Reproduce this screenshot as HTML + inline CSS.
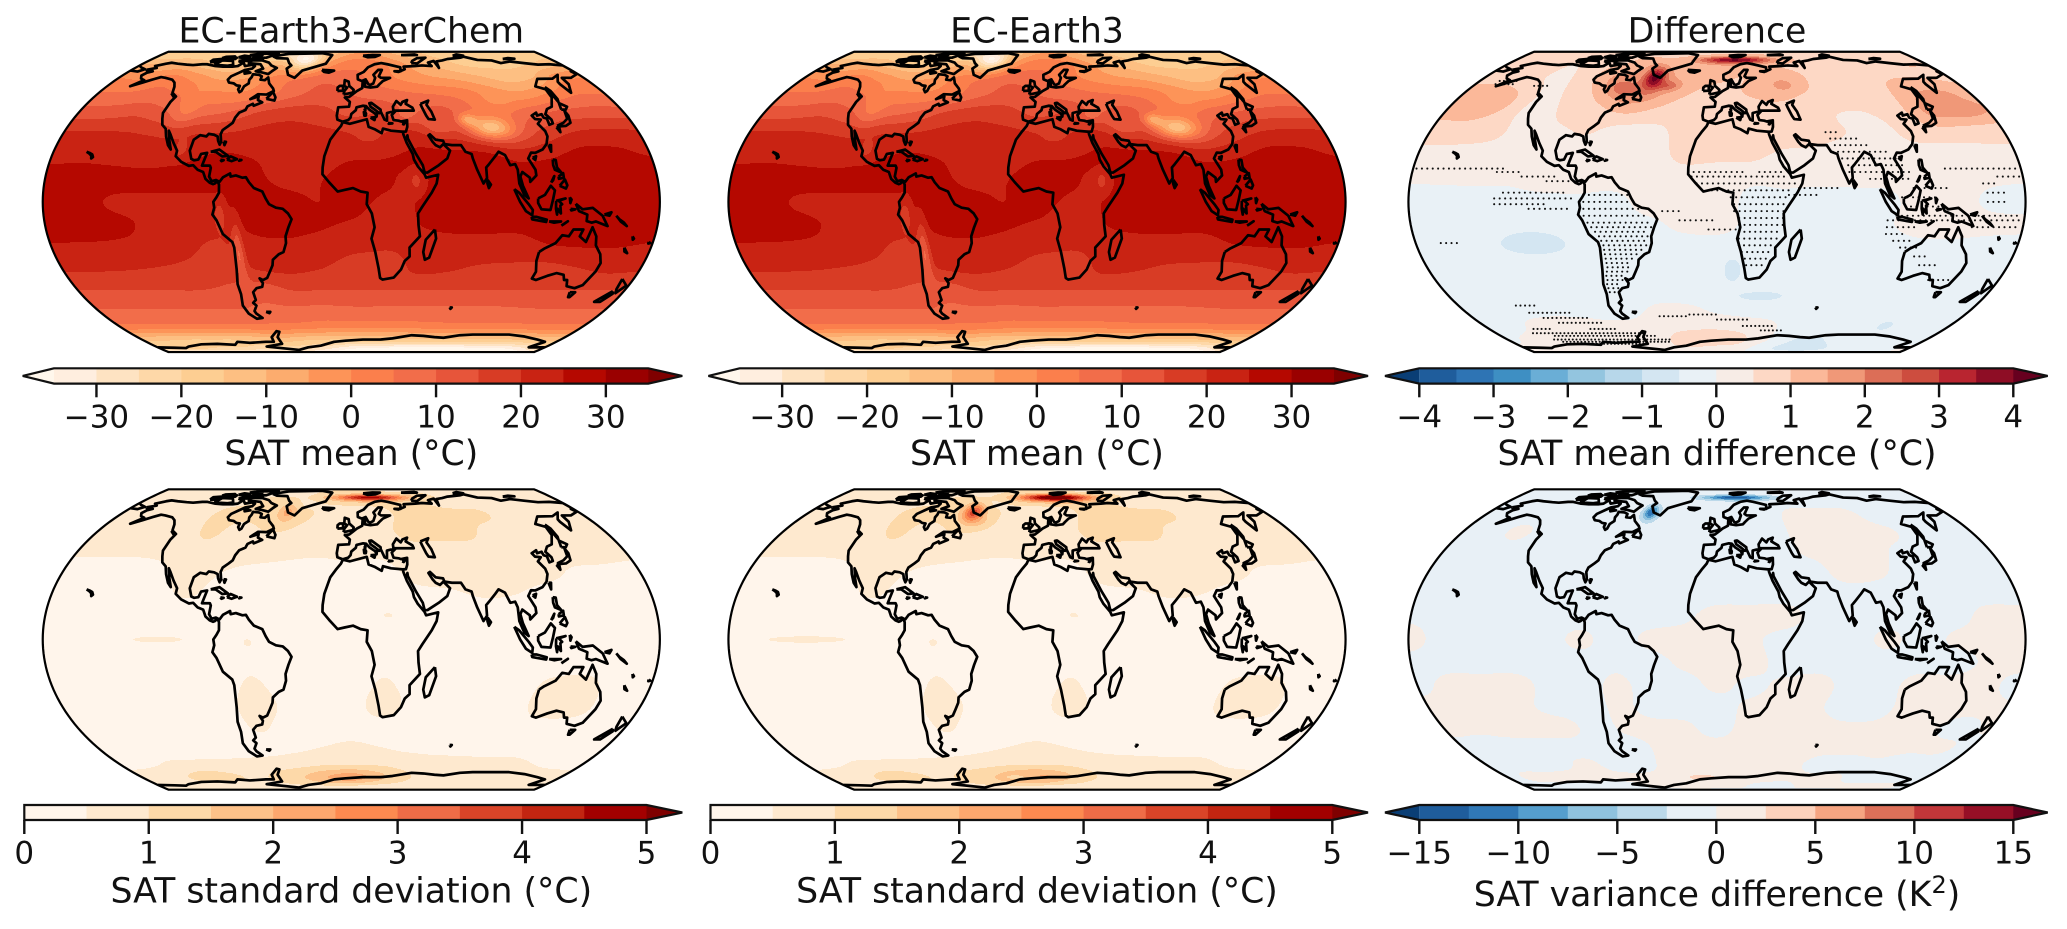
<!DOCTYPE html>
<html lang="en">
<head>
<meta charset="utf-8">
<title>SAT mean and standard deviation maps</title>
<style>
html,body{margin:0;padding:0;background:#fff;}
svg{display:block;}
text{font-family:"DejaVu Sans","Liberation Sans",sans-serif;fill:#111;}
.title,.label{font-size:34.7px;text-anchor:middle;}
.tick{font-size:31px;text-anchor:middle;}
</style>
</head>
<body>
<svg id="figure" xmlns="http://www.w3.org/2000/svg" width="2067" height="929" viewBox="0 0 2067 929">
  <rect x="0" y="0" width="2067" height="929" fill="#fff"/>
  <defs id="defs"></defs>
  <g id="maps"></g>
  <g id="bars"></g>
  <text class="title" x="351.3" y="42.7">EC-Earth3-AerChem</text>
  <text class="title" x="1037" y="42.7">EC-Earth3</text>
  <text class="title" x="1717" y="42.7">Difference</text>
  <text class="label" x="351.3" y="465">SAT mean (°C)</text>
  <text class="label" x="1037" y="465">SAT mean (°C)</text>
  <text class="label" x="1717" y="465">SAT mean difference (°C)</text>
  <text class="label" x="351.3" y="902.5">SAT standard deviation (°C)</text>
  <text class="label" x="1037" y="902.5">SAT standard deviation (°C)</text>
  <text class="label" x="1717" y="906">SAT variance difference (K<tspan font-size="24" dy="-13">2</tspan><tspan dy="13">)</tspan></text>
</svg>
<script>
// ---------- colour scales and levels ----------
const meanLevels = [-35,-30,-25,-20,-15,-10,-5,0,5,10,15,20,25,30,35];
const meanColors = ['#fff7ec','#ffeedf','#fee3c2','#fed8a8','#fdce92','#fdbf82','#fcac6e','#fd9458','#fb7f4c','#f26d4a','#e7553a','#d83c25','#c92313','#b50800','#9a0000','#7f0000'];
const meanTicks = [-30,-20,-10,0,10,20,30];
const meanTickLabels = ['−30','−20','−10','0','10','20','30'];

const diffLevels = [-4,-3.5,-3,-2.5,-2,-1.5,-1,-0.5,0,0.5,1,1.5,2,2.5,3,3.5,4];
const diffColors = ['#0a3e75','#1f5d9c','#2e74b4','#3e8fc3','#6aaed6','#93c5df','#b7d7ea','#d4e6f2','#e9f1f6','#f7ece6','#fdd8c5','#fbb899','#f09878','#dc6e57','#cd4d3f','#b92530','#8e0d25','#67001f'];
const diffTicks = [-4,-3,-2,-1,0,1,2,3,4];
const diffTickLabels = ['−4','−3','−2','−1','0','1','2','3','4'];

const stdLevels = [0,0.5,1,1.5,2,2.5,3,3.5,4,4.5,5];
const stdColors = ['#fff5eb','#fff5eb','#fee9cf','#fdd9a9','#fdc189','#fca76e','#fc8a50','#ef6c47','#d94428','#c22511','#a30000','#7f0000'];
const stdTicks = [0,1,2,3,4,5];
const stdTickLabels = ['0','1','2','3','4','5'];

const varLevels = [-15,-12.5,-10,-7.5,-5,-2.5,0,2.5,5,7.5,10,12.5,15];
const varColors = ['#0a3e75','#1f5d9c','#3078b6','#559ecd','#8fc2de','#bcd9ea','#e8f0f6','#f7ece4','#fdd2bc','#f6a582','#dd7059','#c13639','#960f26','#67001f'];
const varTicks = [-15,-10,-5,0,5,10,15];
const varTickLabels = ['−15','−10','−5','0','5','10','15'];

// ---------- gridded fields: rows lat 90..-90 step 10, columns lon -180..180 step 20 ----------
const meanGrid = [
[-18,-18,-18,-19,-20,-21,-22,-22,-14,-8,-8,-12,-15,-17,-18,-18,-18,-18,-18],
[-18,-18,-18,-19,-21,-22,-24,-24,-12,-4,-4,-9,-13,-16,-17,-17,-17,-17,-18],
[-10,-10,-10,-14,-16,-15,-10,-20,-3,3,2,-3,-9,-13,-16,-16,-16,-14,-10],
[0,-1,2,-2,-6,-5,1,4,8,7,3,-1,-4,-6,-9,-12,-10,-2,0],
[6,6,7,5,2,1,4,9,12,10,8,6,5,3,-1,-3,1,5,5],
[13,13,14,11,9,11,16,18,17,14,15,11,13,7,5,9,12,13,13],
[21,21,20.5,19.5,20,20.5,21.5,22,21.5,21,21,22,20,16,12,17,21,22,21.5],
[23.6,24,23.4,22.5,24,25.5,24.8,23.5,22.5,24.5,25,26,26.5,26.5,23.5,24.5,27,26.5,25],
[27.5,27,26.5,26.5,26.5,26.5,26,24.2,24.6,27,25.5,24.5,28,28,27,28,28.5,28.5,28.5],
[28,27,24.5,24,24,24,26.5,26,25,26,24.5,25.5,28,28.5,28.5,28,28.5,28.5,28.5],
[27,27,26,24.5,23.5,22,25.5,26,25.5,24.5,23.5,25,26,26,26,27,27,27.5,27],
[24.3,24.2,24,23.5,21.5,19,23,24,23,21,21,23,23.2,23.2,23.2,24.5,25,25,24.3],
[20.5,20.5,20.2,19.5,18.5,17,20,21,20,18,18,21,20.5,19,18.5,18,19.5,21,20.5],
[15,15,15,15,15,14,12,15,15,15,15,15,15,15,15,15,15,15,15],
[10,10,10,10,10,10,9,9,8.5,9,9,9,9,9,9,9.5,10,10,10],
[3.5,3.5,3.5,3.5,3.5,3.5,3.5,3,2,2,2,2,2.5,3,3,3,3.5,3.5,3.5],
[-13,-14,-15,-15,-15,-14,-12,-14,-15,-16,-16,-16,-16,-16,-16,-16,-15,-14,-13],
[-22,-20,-20,-22,-22,-25,-25,-25,-30,-35,-36,-38,-38,-38,-38,-36,-36,-32,-22],
[-38,-38,-38,-38,-38,-38,-38,-38,-38,-38,-38,-38,-38,-38,-38,-38,-38,-38,-38]
];
// patches: [lon, lat, lon radius, lat radius, amplitude]
const meanPatches = [
[88,33,13,5,-24],[75,37,6,3,-14],[-40,75,14,7,-12],[-68,-22,3,13,-11],[-77,-6,3,6,-7],[-110,42,8,10,-5],
[38,9,4,5,-6],[55,33,10,5,-6],[35,39,6,3,-4],[100,47,10,4,-3],[-103,23,4,4,-5],[25,-27,10,6,-2],[-60,-3,12,8,1.5],
[10,26,18,5,-2.5],[30,-8,5,8,-3]
];

const diffGrid = [
[.7,.7,.7,.7,.7,.7,.7,.7,.8,.9,.9,.9,.8,.8,.8,.8,.8,.8,.7],
[.9,.8,.7,.7,.7,.8,.9,.8,.9,1,1,1,.9,.9,.9,.9,.9,.9,.9],
[1,.8,.7,.5,.8,1,1.3,1.2,1.1,1.2,1.1,1,.9,.8,.8,.8,.9,1,1],
[.9,.8,.6,.4,.8,1.5,1.5,1.5,1.3,1.1,1,1.2,1.1,.8,.7,.9,1,1,.9],
[1.2,1.3,.9,.4,.7,1.2,1.8,1.4,1,.8,1,1.1,.9,.8,.7,.9,1.5,1.6,1.3],
[1.1,1.1,.7,.3,.6,.8,1,.8,.6,.7,.7,.8,.7,.5,.5,.8,1.5,1.4,1.2],
[.7,.7,.6,.3,.4,.5,.2,.3,.7,.7,.7,.7,.6,.5,.3,.6,.7,.7,.7],
[.3,.3,.25,.2,.3,.3,.2,.3,.6,.6,.6,.4,.4,.3,.2,.3,.3,.3,.3],
[.05,.05,.05,.05,.15,.2,.2,.3,.3,.2,.1,.1,.1,.1,.1,.2,.2,.1,.05],
[-.15,-.1,-.1,-.1,-.1,-.1,-.15,.2,.2,.2,-.1,-.1,-.15,-.15,-.1,.2,.2,-.1,-.15],
[-.15,-.2,-.2,-.3,-.3,-.2,-.15,-.1,.1,.15,-.1,-.15,-.15,-.2,-.05,.2,.25,.15,.1],
[-.2,-.2,-.3,-.4,-.4,-.3,-.15,-.15,-.2,-.2,-.15,-.2,-.2,-.2,-.2,-.15,-.15,-.2,-.2],
[-.2,-.2,-.2,-.2,-.2,-.2,-.2,-.2,-.25,-.25,-.2,-.2,-.2,-.2,-.2,-.2,-.2,-.2,-.2],
[-.2,-.2,-.2,-.2,-.2,-.2,-.2,-.2,-.25,-.25,-.25,-.25,-.2,-.2,-.2,-.2,-.2,-.2,-.2],
[-.2,-.2,-.15,-.1,-.1,-.1,-.1,.1,.1,-.1,-.2,-.2,-.2,-.2,-.2,-.2,-.2,-.2,-.2],
[-.2,-.15,.1,.15,.1,.05,.1,.35,.4,.4,.3,.1,-.2,-.2,-.2,-.3,-.3,-.2,-.2],
[-.1,.1,.2,.2,.1,.1,.2,.5,.7,.7,.6,.1,-.4,-.6,-.4,-.2,-.2,-.2,-.1],
[.1,.1,.1,.1,.1,.1,.3,.4,.4,.3,.2,-.3,-.6,-.7,-.5,-.3,-.2,-.1,.1],
[0,0,0,0,0,0,0,0,0,0,0,0,0,0,0,0,0,0,0]
];
const diffPatches = [
[17,74,30,3.5,3],[-48,60,8,7,2.7],[-35,55,8,3,.9],[-70,54,10,5,.7],[-110,-18,20,5,-.35],[10,-30,8,8,-.4],[30,-43,20,3,-.4],
[130,-60,6,3,-.4],[50,55,12,5,.5],[-150,45,12,6,.3],[165,42,18,4,.5]
];

const stdGridA = [
[.8,.8,.8,.8,.8,.8,.8,.8,.8,.8,.8,.8,.8,.8,.8,.8,.8,.8,.8],
[.9,.8,.8,.8,.8,.9,.8,.9,1.1,1.2,1.1,1,1,.9,.9,.9,.9,.9,.9],
[.9,.8,.7,.8,.9,1,1.2,.9,1,1.1,1.1,1.1,1,.9,.8,.8,.8,.9,.9],
[.7,.8,.7,.8,1.1,1.1,1.2,1.1,.9,.7,.8,1.1,1.1,1.1,1.1,.8,.9,.8,.7],
[.7,.7,.7,.7,1.1,.8,1,.9,.7,.6,.8,1.15,1.15,1.15,.8,.8,.9,.9,.75],
[.55,.55,.55,.6,.8,.7,.7,.6,.55,.6,.6,.8,.8,.8,.8,.8,.8,.7,.6],
[.38,.38,.38,.42,.7,.5,.4,.4,.4,.4,.4,.6,.7,.8,.8,.7,.42,.4,.38],
[.3,.3,.3,.3,.55,.35,.3,.3,.3,.45,.45,.45,.45,.55,.5,.3,.3,.3,.3],
[.3,.3,.3,.3,.3,.3,.3,.3,.3,.42,.5,.45,.3,.3,.3,.3,.3,.3,.3],
[.3,.33,.35,.35,.35,.35,.5,.3,.3,.3,.42,.42,.3,.3,.3,.3,.3,.3,.3],
[.3,.3,.3,.3,.3,.3,.45,.3,.3,.3,.42,.3,.3,.3,.3,.3,.3,.3,.3],
[.3,.3,.3,.3,.3,.3,.55,.35,.3,.3,.55,.3,.3,.3,.3,.6,.65,.3,.3],
[.3,.3,.3,.3,.3,.3,.7,.4,.3,.3,.7,.3,.3,.3,.3,.7,.7,.3,.3],
[.3,.3,.3,.3,.3,.3,.55,.3,.3,.3,.3,.3,.3,.3,.3,.3,.3,.3,.3],
[.35,.35,.35,.35,.35,.35,.35,.4,.5,.6,.5,.4,.35,.35,.35,.35,.35,.35,.35],
[.35,.4,.55,.6,.6,.6,.7,.8,.9,.9,.9,.8,.7,.65,.6,.6,.5,.4,.35],
[.7,.8,1,1.3,1.1,.9,1.2,1.5,2,2.3,1.8,1.2,.9,.8,.7,.7,.7,.7,.7],
[.7,.7,.7,.7,.7,.7,.8,.9,.9,.9,.8,.8,.8,.8,.8,.8,.8,.7,.7],
[.7,.7,.7,.7,.7,.7,.7,.7,.7,.7,.7,.7,.7,.7,.7,.7,.7,.7,.7]
];
const stdPatchesA = [[17,74,30,3.2,3.6],[-50,62,7,6,1],[-113,0,17,1.5,.3]];
const stdPatchesB = [[17,74,30,3.6,4.6],[-50,62,8,6,2.6],[-42,56,8,4,.4],[-135,0,25,1.5,.35],[-13,-70,16,3,-.7],[50,55,12,6,.3]];

const varGrid = [
[-1,-1,-1,-1,-1,-1,-1,-1,-1,-1,-1,-1,-1,-1,-1,-1,-1,-1,-1],
[-1,-1,-1,-1,-1,-1,-1,-1,-1,-1,-1,-1,-1,-1,-1,-1,-1,-1,-1],
[-1,-1,-1,-1,-1,-1,-1,-1,-1,-1,-1,-1,-1,-1,-1,-1,-1,-1,-1],
[-1,-1,-1,-1,-1,-1,-1,-1,-1,-1,-1,-1,1,1,1,-1,-1,-1,-1],
[-1,-1,.5,-1,-1,-.5,-1,-1,-1,-1,-1,-1,1,1,1,.5,-1,-1,-1],
[-1,-1,-1,-1,-1,-1,-1,-1,-1,-1,-1,-1,.5,1,1,-.5,-1,-1,-1],
[-1,-1,-1,-1,-1,-1,-1,-1,-1,-1,-1,-1,-1,1,.5,-1,-1,-1,-1],
[-1,-1,-1,-1,-1,-1,-1,-1,-1,-1,-1,-1,-1,-1,-1,-1,-1,-1,-1],
[-.5,-1,-1,-1,-1,-1,-1,-1,-.5,1,1,1,-1,-1,-1,-1,-1,1,1],
[1,-1,-1,-1,-1,.5,-1,.5,1,1,.5,-1,-1,-1,.5,-1,.5,1,1],
[-1,-1,-1,-1,-1,-1,-.5,-1,.5,1,1,-1,-1,-1,-1,-1,-1,.5,1],
[-1,1,1,1,-1,-1,.5,-1,-1,.5,-.5,.5,1,-1,-1,1,1,1,-1],
[1,1,1,.5,-1,-1,.5,-1,-1,-1,.5,1,.5,-1,-1,1,1,1,.5],
[1,.5,1,1,1,-1,.5,.8,.5,-1,1,1,1,.5,.5,1,.5,-1,.5],
[-1,-1,-1,-1,-1,-1,-1,.5,1,1,1,1,1,1,1,1,.5,.5,-1],
[-1,-1,-1,-.5,.5,-1,-1,.5,1,1,1,1,.5,-1,-1,-.5,-1,-1,-1],
[-1,.5,.5,.5,.5,.5,.5,.5,1,.5,.5,1,.5,.5,.5,-1,-1,-1,-1],
[-1,-1,-1,-1,-1,-1,.5,.5,1,.5,.5,-1,-1,.5,.5,.5,.5,.5,-1],
[-1,-1,-1,-1,-1,-1,-1,-1,-1,-1,-1,-1,-1,-1,-1,-1,-1,-1,-1]
];
const varPatches = [[17,74,28,2.6,-13],[-52,62,6,5,-11],[-12,-70,12,2,4]];

// stippling rows for the mean difference map: [lat, lon start, lon end]
const stippleRows = [
[14.5,-178,-126],[13,-130,-115],[11,-115,-95],[9,-100,-85],[4,-125,-87],[1.5,-130,-85],[-1,-130,-100],[-3,-110,-85],
[3,-78,-52],[0,-78,-50],[-3,-78,-45],[-6,-78,-40],[-9,-76,-38],[-11,-74,-38],[-13,-72,-40],[-15,-70,-40],[-17,-69,-41],[-19,-68,-42],[-21,-68,-44],[-23,-68,-46],[-25,-68,-50],[-27,-68,-52],[-29,-68,-53],[-31,-69,-55],[-33,-70,-58],[-35,-70,-60],[-37,-71,-62],[-39,-71,-63],[-41,-71,-65],
[13,-17,15],[13,25,40],[11,-15,42],[8,-12,46],[5,-3,45],[2,8,42],[-1,10,42],[-4,10,40],[-7,13,40],[-10,13,40],[-13,13,38],[-16,13,37],[-19,13,34],[-22,15,34],[-25,17,32],[-28,18,30],
[-4,-32,-20],[-8,-22,-2],[-12,-5,12],[6,48,72],[3,42,60],
[31,68,76],[28,70,88],[25,72,92],[22,70,105],[19,75,110],[16,78,112],[13,75,115],[10,90,115],[14.5,135,178],[11,165,178],[8,156,165],[4,158,168],[0,158,168],
[6,115,135],[2,108,130],[-2,110,130],[-6,105,178],[-8,100,178],[-11,100,118],[-11,150,178],[-14,100,110],[-17,105,115],[-20,110,120],[-24,120,128],[-28,125,135],[-35,135,150],[-18,-165,-155],
[-48,-140,-125],[-52,-135,-105],[-55,-128,-95],[-58,-120,-85],[-62,-145,-130],[-62,-100,-78],[-65,-150,-60],[-67,-135,-50],[-70,-140,-40],[-72,-135,-40],[-74,-130,-60],
[-54,-42,-20],[-53,-20,0],[-56,0,25],[-60,20,45],[-63,35,52],[58,-165,-150],[56,-165,-150],[55,-135,-125]
];

// coastlines: lon/lat polylines
const coastlines = [
// Americas
[[-168,65.6],[-164,66.5],[-162,67],[-166,68.5],[-160,70.5],[-156.5,71.3],[-150,70.5],[-141,69.7],[-135,69.3],[-128,70],[-124,70],[-115,68.5],[-108,68],[-100,68],[-96,68.5],[-94,71.5],[-92,70],[-90,68.5],[-85,69.5],[-81.5,68.5],[-82,66.5],[-87,65.5],[-90,63.5],[-94,61],[-94.5,58.8],[-92,57],[-88,56.5],[-85,55.3],[-82.3,55],[-82,52.9],[-80,51.3],[-79,52],[-79,54.7],[-76.8,56.5],[-78,58.7],[-77.5,60.5],[-78,62.4],[-73,62],[-70,61],[-69.5,58.8],[-66,58.5],[-64.5,60.3],[-61.5,56.5],[-57,53.5],[-55.7,52],[-60,50],[-66,50.2],[-70,47.5],[-65,49],[-64.5,47],[-61,45.8],[-66,44],[-67,45],[-70,43.7],[-70.5,41.8],[-74,40.5],[-75.5,38],[-76,35.5],[-78,34],[-81,32],[-81.5,30],[-80,26.5],[-80.5,25.2],[-82,27],[-83,29],[-85.5,29.8],[-89,30.2],[-90,29],[-94,29.6],[-97.2,27.5],[-97.8,22.5],[-95.8,18.8],[-94,18.2],[-91.5,18.5],[-90.5,21],[-87,21.5],[-88,18],[-88.7,15.8],[-84,15.8],[-83.3,14.8],[-83.7,11],[-82,9],[-79.5,9.5],[-77.3,8.7],[-75.5,10.7],[-71.5,12.4],[-71,11],[-68,11.5],[-64,10.5],[-62,10.7],[-60,8.5],[-57,6],[-52,4.5],[-50,1.5],[-48,-1],[-44,-2.5],[-40,-3],[-37,-5],[-35,-7.5],[-37,-11],[-39,-15],[-39,-18],[-41,-22],[-44,-23],[-48,-25.5],[-48.7,-28],[-51,-31],[-53.5,-34],[-56.5,-35],[-58.4,-34.2],[-57,-36.5],[-58,-38.3],[-62,-39],[-65,-41],[-65,-45],[-67.5,-46.5],[-66,-48],[-69,-51],[-68.5,-52.5],[-65.5,-55],[-70,-55.5],[-74,-52.5],[-75.5,-48],[-73.5,-42],[-73.5,-37],[-71.5,-30],[-70.3,-20],[-71,-17.5],[-76,-14],[-79,-8],[-81.2,-5.5],[-80,-2.5],[-80.5,0],[-78.7,2],[-77.3,4],[-77.5,7.5],[-78.5,9],[-80,8],[-81,7.7],[-83,8.3],[-85.7,10],[-87.5,13],[-91,14],[-94,16],[-96.5,15.7],[-101.5,17.5],[-105.5,20],[-105.5,22.5],[-109,26],[-112.8,30],[-114.7,31.7],[-112,27],[-109.5,23],[-112,25],[-115,29],[-117.2,32.6],[-120.5,34.5],[-122.5,37.5],[-124.2,40.3],[-124,46],[-123,49],[-127.5,51],[-130,54.5],[-133,57],[-137,58.8],[-144,60],[-148,60.5],[-152,59],[-157,57],[-163,54.8],[-158,58.5],[-162,59.5],[-165,61.5],[-164,63.5],[-161,64.5],[-166,64.7],[-168,65.6]],
// Greenland and Arctic Canada
[[-73,78.2],[-68,76],[-58,75.5],[-54,71],[-51,69],[-53.5,66.5],[-50,62],[-44,60],[-40,65],[-30,68],[-22,70.5],[-20,75],[-18,80],[-28,83.3],[-45,82.5],[-60,82],[-73,78.2]],
[[-80,73.7],[-72,71.5],[-68,69],[-62,67],[-64,65],[-66,62.5],[-72,63.7],[-77.5,64.5],[-73,66.5],[-78,70],[-89,71],[-89,73.5],[-80,73.7]],
[[-117,69.5],[-105,68.8],[-101,69.5],[-105,73],[-115,73.5],[-117,69.5]],
[[-124,72],[-118,72],[-117,75],[-124,74.3],[-124,72]],
[[-90,76.5],[-78,76.5],[-70,83],[-90,82],[-92,80],[-90,76.5]],
[[-116,75],[-105,75],[-105,76.5],[-116,76.5],[-116,75]],
[[-96,73],[-90,73],[-80,75],[-92,75.5],[-96,73]],
[[-100,73],[-96,71.5],[-95,74],[-100,73]],
[[-104,77],[-98,76],[-94,78],[-100,79],[-104,77]],
[[-118,76],[-112,76],[-108,78],[-116,77.5],[-118,76]],
[[-96,80],[-86,78],[-84,80],[-92,81],[-96,80]],
[[-87,65],[-81,63.5],[-85,62.8],[-87,65]],
[[-59,47.7],[-53,46.7],[-53,48.5],[-56,51.5],[-59,47.7]],
[[-128,50.7],[-124,48.5],[-125.5,50],[-128,50.7]],
// Caribbean
[[-85,22],[-80,23],[-74.2,20.2],[-77.5,19.9],[-82,22],[-85,22]],
[[-74.4,18.5],[-72.5,19.9],[-68.4,18.7],[-71.5,17.8],[-74.4,18.5]],
[[-78.3,18.4],[-76.3,18.2],[-77.5,17.8],[-78.3,18.4]],
[[-67.2,18.4],[-65.7,18.3],[-67,18],[-67.2,18.4]],
[[-78.5,26.6],[-77,26.5],[-77.5,25],[-78.5,26.6]],
[[-160,22],[-158,21.5],[-156,20.8],[-155,19.6],[-155.8,19],[-156.3,20.2],[-158,21.2],[-160,22]],
// Europe islands
[[-24,65.5],[-14,65],[-18,63.5],[-22,64],[-24,65.5]],
[[-5.5,50],[1.3,51.2],[1.7,52.7],[-1.5,55],[-2,57.6],[-5,58.5],[-5.2,55],[-3,54],[-5,52],[-5.5,50]],
[[-10,52],[-6,52.2],[-6,55],[-8.5,55],[-10,54],[-10,52]],
[[11,79],[20,80.2],[27,80],[22,77.5],[15,77],[11,79]],
[[52,71],[57,70.7],[68,76.5],[60,76],[54,73],[52,71]],
[[47,80],[60,81],[62,80],[50,79.8],[47,80]],
[[95,79],[105,79],[100,81],[95,79]],
[[137,75],[148,75.3],[143,76],[137,75]],
[[9,41],[9.7,40],[9.5,39],[8.5,39],[8.3,40.8],[9,41]],
[[12.5,38],[15.6,38.2],[15,36.8],[12.5,38]],
[[8.7,42.6],[9.5,42.9],[9.3,41.5],[8.7,42.6]],
[[23.5,35.4],[26.3,35.2],[24,35],[23.5,35.4]],
[[32.5,35],[34.5,35.6],[33.5,34.7],[32.5,35]],
// Eurasia
[[-5.5,36],[-9,37],[-9.5,39],[-8.8,43.2],[-1.5,43.5],[-1,46],[-4.5,48.4],[-1.5,48.7],[1.5,50.5],[4,52],[8,53.7],[8.5,57],[10.5,57.5],[10,54.5],[14,54],[19,54.5],[21,56],[24,58],[30,60],[23,60],[21.5,61],[25,65.5],[22,65.5],[17.5,62],[18.5,60],[16.5,56.5],[14,55.5],[12.7,56],[11,59],[8,58],[5,59],[5,62],[10,64],[14,67.5],[20,70],[26,71],[31,70],[41,67.5],[40,64.5],[35,64.5],[38,64],[44,66],[44,68],[54,68.5],[60,69],[68,68.5],[67,71.5],[73,73],[73,67],[75,72.5],[81,73.5],[87,75],[100,76.5],[104,77.7],[113,74],[125,73.5],[130,71],[140,72.5],[150,71],[160,69.7],[170,70],[180,69],[180,65],[178,64.5],[179,62.5],[170,60],[163,60],[162,56],[156.7,51],[155.5,56],[156,57.5],[163,62],[155,59.5],[143,59.3],[135.5,54.7],[141,53],[140,48.5],[135,43.5],[130.7,42.3],[127.5,39.7],[129.4,37],[129,35.2],[126.3,34.5],[126.8,37.5],[125,38],[125,39.7],[121.5,39],[122,40.5],[118,39],[119,37.3],[122.5,37],[119.3,35],[121.8,31.5],[121.8,29],[119.5,25.5],[116,23],[111,21.5],[108.5,21.6],[106,19],[109,14],[109,11.5],[105,8.7],[105,10.5],[101,13],[99.5,11],[100.5,7],[103.5,1.5],[101,3],[98.5,8],[98.5,14],[97.5,16.5],[94.5,16],[92.5,20.5],[89,22],[86.5,20],[82,16.5],[80,15],[79.8,10.3],[77.5,8],[74.5,14],[72.8,19],[72.5,21],[69,22],[67,25],[61.5,25],[57,25.5],[56.5,27],[52,27.5],[49,30],[48,29.5],[50,26.5],[51.5,25],[54,24],[56.3,25.5],[59.8,22.5],[57.5,19],[52,16],[45,12.8],[43.3,12.7],[42.5,16],[39,21],[35,28],[34.9,29.5],[34.2,27.8],[33,28.5],[32.5,30],[32.3,31.2],[34.3,31.3],[35.5,33.5],[36,36.7],[32,36.1],[30.5,36.5],[27.3,36.8],[26.5,39.3],[29,41],[26.2,40.8],[23.5,40.3],[23,36.5],[21.5,37],[19.5,41],[19.5,42],[13.7,45.5],[12.3,45.3],[13,43.5],[16,41.8],[18.5,40.2],[17,40.5],[16.5,38.5],[15.7,40],[12,42],[10,43.8],[8,44],[3.5,43.2],[3,41.7],[0,39.8],[-0.5,38],[-2,36.8],[-5.5,36]],
[[-180,69],[-176,67.5],[-170,66],[-173,64.3],[-180,65]],
[[28,41.5],[41.5,41.5],[41,43],[37,45],[38.5,47],[35,46],[33.5,44.5],[31,46.5],[28,43.5],[28,41.5]],
[[47,45],[53,46.7],[51,44.5],[53,41],[54,37],[50,37.3],[49,39],[47.5,43],[47,45]],
// Africa and Madagascar
[[-5.5,35.8],[-1,35],[10,37.2],[11,33.5],[15,32.3],[19,30.5],[20,32.7],[25,31.7],[32.3,31.2],[32.5,29.9],[34,26],[37,21],[37.5,18.5],[39.5,15.5],[43.2,12],[44,10.5],[51.2,11.8],[50,8],[47,4],[41.5,-2],[39,-5],[39.5,-10],[40.7,-15],[35,-20],[35.5,-24],[32.8,-26],[31,-30],[27,-33.8],[20,-34.8],[18.3,-34],[17,-29.5],[14.5,-22],[12,-16],[13.7,-11],[12,-5],[9,-1],[9.5,4],[5.5,4.5],[1,6],[-4,5.2],[-8,4.5],[-13,8.5],[-17,12],[-17,15],[-16.2,20],[-13,27.5],[-9.7,31],[-6.5,34],[-5.5,35.8]],
[[49.3,-12],[50.4,-16],[47.5,-24.5],[45,-25.5],[43.5,-22],[44.3,-16.5],[49.3,-12]],
// Asia islands
[[80,9.6],[81.8,7.5],[80.5,6],[79.8,8],[80,9.6]],
[[95.3,5.5],[98,4],[103.5,-1],[106,-3.5],[105.8,-5.8],[102,-4],[98.5,0],[95.3,5.5]],
[[105.5,-6.5],[108.5,-6.5],[114.5,-7.7],[114.3,-8.7],[106,-7.6],[105.5,-6.5]],
[[109,1.5],[113,3],[116.8,7],[119,5],[117.7,1],[116.3,-3.5],[111,-3.2],[109,-0.5],[109,1.5]],
[[119.5,0.5],[125,1.5],[121,0.5],[123,-1],[122,-1.6],[122.5,-5],[120.5,-3],[120.3,-5.5],[119.5,-3],[119.5,.5]],
[[131,-0.8],[135,-3.2],[141,-2.6],[147,-6],[150.7,-10.5],[147,-9.5],[143.5,-8.5],[141,-9],[138,-8.3],[138,-5.5],[133,-4],[131,-0.8]],
[[148,-5.5],[152,-4.5],[151,-6],[148,-5.5]],
[[155,-6],[157,-7.5],[160,-9],[162,-10.5],[158,-8.5],[155,-6]],
[[120.5,18.5],[122.2,18.3],[122,15],[124,12.8],[120.5,14],[120,16],[120.5,18.5]],
[[122,7],[125.5,9.7],[126.5,7.2],[125.5,5.8],[122,7]],
[[122,11],[125,12.5],[125,10.5],[122,10],[122,11]],
[[117.2,8.4],[119.5,11.2],[118.5,9.4],[117.2,8.4]],
[[127.5,2],[128.5,1],[127.8,-.5],[127.5,2]],
[[128,-3],[130.8,-3.2],[128.5,-3.7],[128,-3]],
[[116,-8.5],[119,-8.5],[123,-8.5],[119,-9],[116,-8.5]],
[[123.5,-10.3],[127,-8.4],[124.5,-9.8],[123.5,-10.3]],
[[120.5,25],[122,25],[120.8,22],[120.5,25]],
[[108.7,19.3],[111,20],[110,18.3],[108.7,19.3]],
[[130.9,34],[136,35.5],[140,37.5],[141.5,41.3],[142,39],[140.5,35.5],[136.5,34],[133,33.8],[130.9,34]],
[[140,42],[141.7,45.4],[145.3,43.5],[143,42],[140,42]],
[[130,33.3],[131.8,33.5],[131,31],[130,33.3]],
[[142,54.3],[143.3,52],[143,47.5],[142,46],[142,50],[142,54.3]],
// Oceania
[[113.5,-22],[116,-20.5],[122,-18],[125,-14.5],[129,-15],[131,-12],[136.8,-12],[135.5,-15],[140,-17.5],[142,-11],[145.3,-15],[146.5,-19],[151,-23],[153.5,-27],[153,-31],[150,-37.5],[146,-39],[140,-38],[138,-35],[136,-35],[134,-32.5],[129,-31.7],[124,-33],[118,-35],[115,-34.3],[115.7,-31],[113.5,-26],[113.5,-22]],
[[144.7,-41],[148.3,-41],[147,-43.5],[146,-43.5],[144.7,-41]],
[[172.8,-34.5],[178.5,-37.7],[175.5,-41.5],[174,-39.5],[172.8,-34.5]],
[[172.7,-40.5],[174,-41.8],[170.5,-46],[166.5,-46],[172.7,-40.5]],
[[164,-20],[167,-22.5],[165,-21.8],[164,-20]],
[[166.8,-15],[167.5,-16.5],[168,-16],[166.8,-15]],
[[177.5,-17.5],[178.6,-18],[177.5,-18.2],[177.5,-17.5]],
// Southern islands
[[-61,-51.5],[-58,-51.5],[-59,-52.2],[-61,-51.5]],
[[69,-49],[70.5,-49],[70,-49.8],[69,-49]],
// Antarctica
[[-180,-78],[-165,-78.5],[-155,-79],[-150,-77],[-135,-74.5],[-120,-74],[-105,-75],[-100,-72],[-90,-73],[-75,-72],[-68,-72],[-67,-68],[-60,-63.5],[-58,-64],[-62,-68],[-62,-74],[-78,-77],[-50,-82],[-40,-78],[-28,-76],[-15,-72],[-5,-71],[10,-70],[25,-70],[35,-69],[50,-66.5],[60,-67],[70,-68],[78,-68.5],[90,-66.5],[100,-66],[115,-66],[130,-66],[145,-67.5],[160,-70],[170,-72],[165,-78],[180,-78]]
];

// ---------- layout ----------
const SVG_NS = 'http://www.w3.org/2000/svg';
const MAP_SCALE = 114;
const panelLayout = [
  {id:'mean-aerchem', cx:351.3, cy:201.9, grid:meanGrid, patches:meanPatches, levels:meanLevels, colors:meanColors},
  {id:'mean-earth3', cx:1037, cy:201.9, grid:meanGrid, patches:meanPatches, levels:meanLevels, colors:meanColors},
  {id:'mean-difference', cx:1717, cy:201.9, grid:diffGrid, patches:diffPatches, levels:diffLevels, colors:diffColors, stipple:true},
  {id:'std-aerchem', cx:351.3, cy:639.5, grid:stdGridA, patches:stdPatchesA, levels:stdLevels, colors:stdColors},
  {id:'std-earth3', cx:1037, cy:639.5, grid:stdGridA, patches:stdPatchesB, levels:stdLevels, colors:stdColors},
  {id:'variance-difference', cx:1717, cy:639.5, grid:varGrid, patches:varPatches, levels:varLevels, colors:varColors}
];
const barLayout = [
  {id:'mean-aerchem', x0:54, x1:648.3, tipL:22.7, tipR:682.3, y0:368.3, y1:383.6, tickEnd:397.3, base:427.3, levels:meanLevels, colors:meanColors, ticks:meanTicks, labels:meanTickLabels},
  {id:'mean-earth3', x0:739.7, x1:1334, tipL:708.4, tipR:1368, y0:368.3, y1:383.6, tickEnd:397.3, base:427.3, levels:meanLevels, colors:meanColors, ticks:meanTicks, labels:meanTickLabels},
  {id:'mean-difference', x0:1419.3, x1:2013.3, tipL:1385, tipR:2047.7, y0:368.3, y1:383.6, tickEnd:397.3, base:427.3, levels:diffLevels, colors:diffColors, ticks:diffTicks, labels:diffTickLabels},
  {id:'std-aerchem', x0:24.3, x1:646.5, tipL:null, tipR:682.3, y0:805, y1:820, tickEnd:834, base:863.3, levels:stdLevels, colors:stdColors, ticks:stdTicks, labels:stdTickLabels},
  {id:'std-earth3', x0:710.5, x1:1332.3, tipL:null, tipR:1368, y0:805, y1:820, tickEnd:834, base:863.3, levels:stdLevels, colors:stdColors, ticks:stdTicks, labels:stdTickLabels},
  {id:'variance-difference', x0:1419.3, x1:2013.3, tipL:1385, tipR:2047.7, y0:805, y1:820, tickEnd:834, base:863.3, levels:varLevels, colors:varColors, ticks:varTicks, labels:varTickLabels}
];

// ---------- Equal Earth projection ----------
const A1=1.340264, A2=-0.081106, A3=0.000893, A4=0.003796, RAD=Math.PI/180, ROOT3=Math.sqrt(3);
function thetaOf(lat){ return Math.asin(ROOT3/2*Math.sin(lat*RAD)); }
function yOfTheta(t){ const t2=t*t, t6=t2*t2*t2; return t*(A1+A2*t2+t6*(A3+A4*t2)); }
function kOfTheta(t){ const t2=t*t, t6=t2*t2*t2; return 2*ROOT3*Math.cos(t)/(3*(9*A4*t6*t2+7*A3*t6+3*A2*t2+A1)); }
function thetaFromY(Y){
  let t=Y/A1;
  for(let i=0;i<6;i++){
    const t2=t*t, t6=t2*t2*t2;
    t-=(yOfTheta(t)-Y)/(A1+3*A2*t2+t6*(7*A3+9*A4*t2));
  }
  return t;
}
function project(lon,lat,p){
  const t=thetaOf(lat);
  return [p.cx+MAP_SCALE*lon*RAD*kOfTheta(t), p.cy-MAP_SCALE*yOfTheta(t)];
}

// ---------- field sampling ----------
function cubic(a,b,c,d,f){ return b+0.5*f*(c-a+f*(2*a-5*b+4*c-d+f*(3*(b-c)+d-a))); }
function sampleField(grid,patches,lon,lat){
  const gi=Math.min(17.999,Math.max(0,(90-lat)/10)), gj=Math.min(17.999,Math.max(0,(lon+180)/20));
  const i=Math.floor(gi), j=Math.floor(gj), fi=gi-i, fj=gj-j;
  const rowVals=[];
  for(let r=i-1;r<=i+2;r++){
    const row=grid[Math.max(0,Math.min(18,r))];
    rowVals.push(cubic(row[Math.max(0,j-1)],row[j],row[j+1],row[Math.min(18,j+2)],fj));
  }
  let v=cubic(rowVals[0],rowVals[1],rowVals[2],rowVals[3],fi);
  for(let k=0;k<patches.length;k++){
    const q=patches[k], dx=(lon-q[0])/q[2], dy=(lat-q[1])/q[3], e=dx*dx+dy*dy;
    if(e<9) v+=q[4]*Math.exp(-e);
  }
  return v;
}
function binIndex(v,levels){
  if(v<levels[0]) return 0;
  const step=levels[1]-levels[0];
  const idx=Math.floor((v-levels[0])/step)+1;
  return Math.min(levels.length,idx);
}

// ---------- draw maps ----------
const mapsGroup=document.getElementById('maps');
const defs=document.getElementById('defs');

function outlinePath(p){
  let d='';
  for(let lat=-90;lat<=90;lat+=2){ const q=project(-180,lat,p); d+=(d?'L':'M')+q[0].toFixed(2)+' '+q[1].toFixed(2); }
  for(let lat=90;lat>=-90;lat-=2){ const q=project(180,lat,p); d+='L'+q[0].toFixed(2)+' '+q[1].toFixed(2); }
  return d+'Z';
}

panelLayout.forEach(function(p){
  const g=document.createElementNS(SVG_NS,'g');
  
  
  mapsGroup.appendChild(g);

  const clip=document.createElementNS(SVG_NS,'clipPath');
  clip.setAttribute('id','clip-'+p.id);
  const clipShape=document.createElementNS(SVG_NS,'path');
  clipShape.setAttribute('d',outlinePath(p));
  clip.appendChild(clipShape);
  defs.appendChild(clip);

  const bands=p.colors.map(function(){ return []; });
  const maxY=yOfTheta(Math.PI/3);
  const top=Math.floor(p.cy-MAP_SCALE*maxY), bottom=Math.ceil(p.cy+MAP_SCALE*maxY);
  for(let py=top;py<bottom;py++){
    const Y=(p.cy-(py+0.5))/MAP_SCALE;
    if(Math.abs(Y)>maxY) continue;
    const t=thetaFromY(Y), k=kOfTheta(t);
    const lat=Math.asin(2/ROOT3*Math.sin(t))/RAD;
    const half=Math.PI*k*MAP_SCALE;
    const left=Math.floor(p.cx-half), right=Math.ceil(p.cx+half);
    let runStart=left, runBin=-1;
    for(let px=left;px<=right;px++){
      let b=-2;
      if(px<right){
        const lon=(px+0.5-p.cx)/MAP_SCALE/k/RAD;
        b=binIndex(sampleField(p.grid,p.patches,Math.max(-180,Math.min(180,lon)),lat),p.levels);
      }
      if(b!==runBin){
        if(runBin>=0) bands[runBin].push('M'+runStart+' '+py+'h'+(px-runStart)+'v1h'+(runStart-px)+'z');
        runStart=px; runBin=b;
      }
    }
  }
  const bandGroup=document.createElementNS(SVG_NS,'g');
  
  
  bandGroup.setAttribute('clip-path','url(#clip-'+p.id+')');
  g.appendChild(bandGroup);
  bands.forEach(function(parts,idx){
    if(!parts.length) return;
    const band=document.createElementNS(SVG_NS,'path');
    
    
    band.setAttribute('d',parts.join(''));
    band.setAttribute('fill',p.colors[idx]);
    band.setAttribute('shape-rendering','crispEdges');
    bandGroup.appendChild(band);
  });

  if(p.stipple){
    let dots='';
    stippleRows.forEach(function(r){
      for(let lon=r[1];lon<=r[2];lon+=3.2){
        const q=project(lon,r[0],p);
        dots+='M'+(q[0]-1.05).toFixed(2)+' '+q[1].toFixed(2)+'a1.05 1.05 0 1 0 2.1 0a1.05 1.05 0 1 0-2.1 0z';
      }
    });
    const st=document.createElementNS(SVG_NS,'path');
    
    
    st.setAttribute('d',dots);
    st.setAttribute('fill','#111');
    st.setAttribute('clip-path','url(#clip-'+p.id+')');
    g.appendChild(st);
  }

  let coastD='';
  coastlines.forEach(function(line){
    line.forEach(function(pt,i){
      const q=project(pt[0],pt[1],p);
      coastD+=(i?'L':'M')+q[0].toFixed(2)+' '+q[1].toFixed(2);
    });
  });
  const coast=document.createElementNS(SVG_NS,'path');
  
  
  coast.setAttribute('d',coastD);
  coast.setAttribute('fill','none');
  coast.setAttribute('stroke','#000');
  coast.setAttribute('stroke-width','2.7');
  coast.setAttribute('stroke-linejoin','round');
  coast.setAttribute('clip-path','url(#clip-'+p.id+')');
  g.appendChild(coast);

  const frame=document.createElementNS(SVG_NS,'path');
  
  
  frame.setAttribute('d',outlinePath(p));
  frame.setAttribute('fill','none');
  frame.setAttribute('stroke','#000');
  frame.setAttribute('stroke-width','2.2');
  g.appendChild(frame);
});

// ---------- draw colorbars ----------
const barsGroup=document.getElementById('bars');
barLayout.forEach(function(b){
  const g=document.createElementNS(SVG_NS,'g');
  
  
  barsGroup.appendChild(g);
  const lo=b.levels[0], hi=b.levels[b.levels.length-1];
  const xScale=function(v){ return b.x0+(v-lo)/(hi-lo)*(b.x1-b.x0); };
  const midY=(b.y0+b.y1)/2;

  for(let i=0;i<b.levels.length-1;i++){
    const seg=document.createElementNS(SVG_NS,'rect');
    
    
    seg.setAttribute('x',xScale(b.levels[i]));
    seg.setAttribute('y',b.y0);
    seg.setAttribute('width',xScale(b.levels[i+1])-xScale(b.levels[i])+0.4);
    seg.setAttribute('height',b.y1-b.y0);
    seg.setAttribute('fill',b.colors[i+1]);
    g.appendChild(seg);
  }
  if(b.tipL!==null){
    const under=document.createElementNS(SVG_NS,'polygon');
    
    
    under.setAttribute('points',b.x0+','+b.y0+' '+b.tipL+','+midY+' '+b.x0+','+b.y1);
    under.setAttribute('fill',b.colors[0]);
    g.appendChild(under);
  }
  const over=document.createElementNS(SVG_NS,'polygon');
  
  
  over.setAttribute('points',b.x1+','+b.y0+' '+b.tipR+','+midY+' '+b.x1+','+b.y1);
  over.setAttribute('fill',b.colors[b.colors.length-1]);
  g.appendChild(over);

  const leftEdge=b.tipL!==null ? 'M'+b.x0+' '+b.y0+'L'+b.tipL+' '+midY+'L'+b.x0+' '+b.y1 : 'M'+b.x0+' '+b.y0+'L'+b.x0+' '+b.y1;
  const outline=document.createElementNS(SVG_NS,'path');
  
  
  outline.setAttribute('d',leftEdge+'L'+b.x1+' '+b.y1+'L'+b.tipR+' '+midY+'L'+b.x1+' '+b.y0+'Z');
  outline.setAttribute('fill','none');
  outline.setAttribute('stroke','#111');
  outline.setAttribute('stroke-width','2.2');
  outline.setAttribute('stroke-linejoin','miter');
  g.appendChild(outline);

  b.ticks.forEach(function(v,i){
    const tick=document.createElementNS(SVG_NS,'line');
    
    
    tick.setAttribute('x1',xScale(v));
    tick.setAttribute('x2',xScale(v));
    tick.setAttribute('y1',b.y1);
    tick.setAttribute('y2',b.tickEnd);
    tick.setAttribute('stroke','#111');
    tick.setAttribute('stroke-width','2.4');
    g.appendChild(tick);
    const label=document.createElementNS(SVG_NS,'text');
    
    
    label.setAttribute('class','tick');
    label.setAttribute('x',xScale(v));
    label.setAttribute('y',b.base);
    label.textContent=b.labels[i];
    g.appendChild(label);
  });
});
</script>
</body>
</html>
